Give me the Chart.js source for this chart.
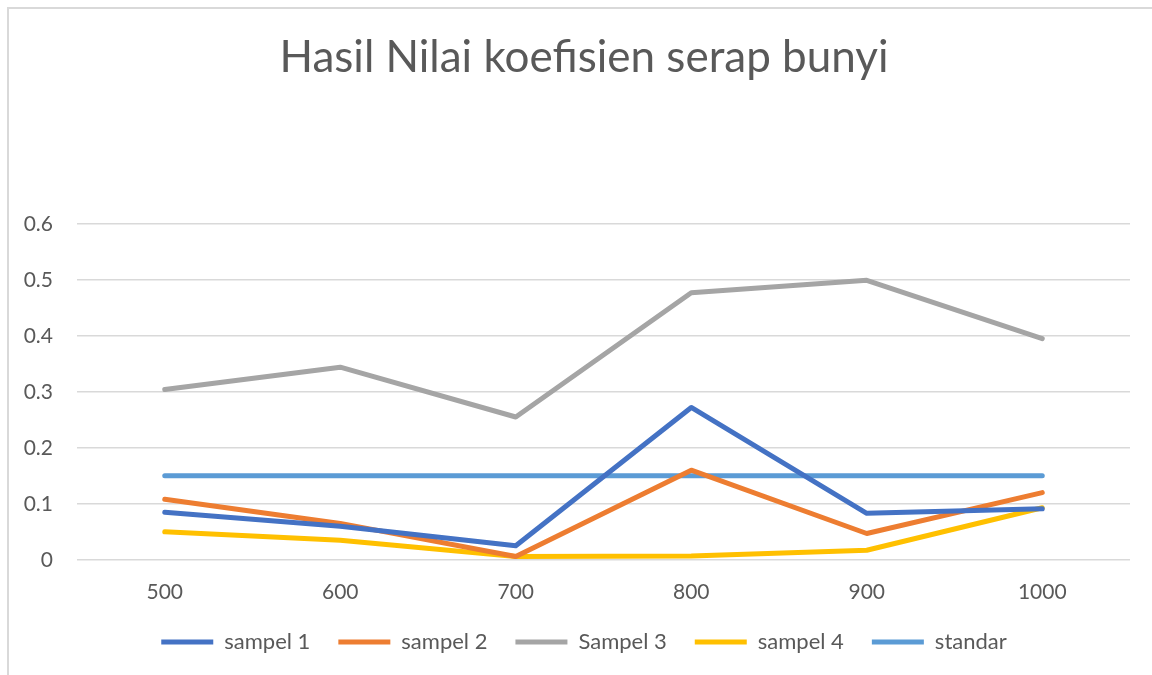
<!DOCTYPE html>
<html>
<head>
<meta charset="utf-8">
<script src="https://cdn.jsdelivr.net/npm/chart.js@4.4.1/dist/chart.umd.min.js"></script>
<style>
    html, body { margin: 0; padding: 0; background: #ffffff; }
    #wrap { position: relative; width: 1152px; height: 675px; }
    #frame { position: absolute; left: 7px; top: 7px; right: -10px; bottom: -10px;
             border-left: 2px solid #d9d9d9; border-top: 2px solid #d9d9d9; pointer-events: none; }
    canvas { position: absolute; left: 0; top: 0; }
</style>
</head>
<body>
<div id="wrap">
    <canvas id="chart" width="1152" height="675"></canvas>
    <div id="frame"></div>
</div>
<script>
// Data
const frequencies = ["500", "600", "700", "800", "900", "1000"];
const sampel1 = [0.085, 0.060, 0.025, 0.272, 0.083, 0.091];
const sampel2 = [0.108, 0.065, 0.006, 0.160, 0.047, 0.120];
const sampel3 = [0.304, 0.344, 0.255, 0.477, 0.499, 0.395];
const sampel4 = [0.050, 0.035, 0.006, 0.007, 0.017, 0.093];
const standar = [0.15, 0.15, 0.15, 0.15, 0.15, 0.15];

const seriesNames = ["sampel 1", "sampel 2", "Sampel 3", "sampel 4", "standar"];
const seriesColors = ["#4472c4", "#ed7d31", "#a5a5a5", "#ffc000", "#5b9bd5"];

const FONT = "Lato, 'Open Sans', sans-serif";
const TEXT = "#595959";

// Build datasets
const makeSet = (i, values) => ({
    label: seriesNames[i],
    data: values,
    borderColor: seriesColors[i],
    backgroundColor: seriesColors[i],
    borderWidth: 5,
    borderCapStyle: "round",
    borderJoinStyle: "round",
    pointRadius: 0,
    pointHoverRadius: 0,
    pointStyle: "line",
    tension: 0,
    fill: false
});

// Title and legend sit a bit right of the plot centre, legend a bit higher
const shiftBlocks = {
    id: "shiftBlocks",
    afterLayout: (chart) => {
        chart.titleBlock.left += 32;
        chart.legend.left += 32;
        chart.legend.top -= 14;
        chart.legend.bottom -= 14;
    }
};

new Chart(document.querySelector("#chart"), {
    type: "line",
    data: {
        labels: frequencies,
        datasets: [
            makeSet(0, sampel1),
            makeSet(1, sampel2),
            makeSet(2, sampel3),
            makeSet(3, sampel4),
            makeSet(4, standar)
        ]
    },
    options: {
        responsive: false,
        animation: false,
        layout: {
            padding: {left: 6, right: 22, top: 0, bottom: -2}
        },
        plugins: {
            title: {
                display: true,
                text: "Hasil Nilai koefisien serap bunyi",
                color: TEXT,
                font: {family: FONT, size: 44, weight: "normal"},
                padding: {top: 31, bottom: 140}
            },
            legend: {
                position: "bottom",
                labels: {
                    usePointStyle: true,
                    pointStyleWidth: 52,
                    boxHeight: 22,
                    padding: 28,
                    color: TEXT,
                    font: {family: FONT, size: 22}
                }
            },
            tooltip: {enabled: false}
        },
        scales: {
            x: {
                offset: true,
                grid: {display: false},
                border: {display: false},
                ticks: {color: TEXT, font: {family: FONT, size: 21}, padding: 12, maxRotation: 0}
            },
            y: {
                min: 0,
                max: 0.6,
                afterFit: (scale) => { scale.width = 71; },
                ticks: {stepSize: 0.1, color: TEXT, font: {family: FONT, size: 21}, padding: 24},
                grid: {color: "#d9d9d9", lineWidth: 1.5, drawTicks: false},
                border: {display: false}
            }
        }
    },
    plugins: [shiftBlocks]
});
</script>
</body>
</html>
